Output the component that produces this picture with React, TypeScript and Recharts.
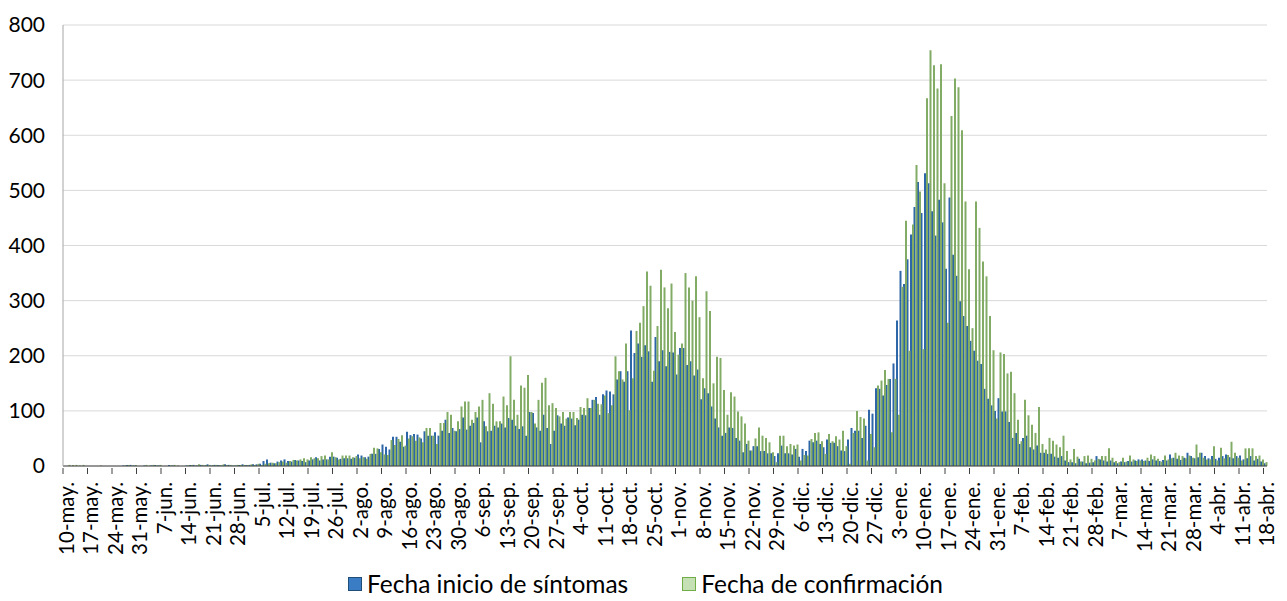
import React from "react";
import { BarChart, Bar, XAxis, YAxis, CartesianGrid, Legend } from "recharts";

// weekly tick labels (every 7th day, 10-may → 18-abr)
const tickLabels = [
  "10-may.", "17-may.", "24-may.", "31-may.", "7-jun.", "14-jun.", "21-jun.", "28-jun.",
  "5-jul.", "12-jul.", "19-jul.", "26-jul.", "2-ago.", "9-ago.", "16-ago.", "23-ago.",
  "30-ago.", "6-sep.", "13-sep.", "20-sep.", "27-sep.", "4-oct.", "11-oct.", "18-oct.",
  "25-oct.", "1-nov.", "8-nov.", "15-nov.", "22-nov.", "29-nov.", "6-dic.", "13-dic.",
  "20-dic.", "27-dic.", "3-ene.", "10-ene.", "17-ene.", "24-ene.", "31-ene.", "7-feb.",
  "14-feb.", "21-feb.", "28-feb.", "7-mar.", "14-mar.", "21-mar.", "28-mar.", "4-abr.",
  "11-abr.", "18-abr.",
];

// daily cases by symptom onset date
const inicioSintomas = [
  0, 0, 0, 0, 0, 0, 0, 0, 0, 0, 0, 0, 0, 0,
  0, 0, 0, 1, 2, 2, 1, 0, 0, 1, 0, 1, 2, 1,
  0, 0, 2, 1, 0, 0, 0, 1, 2, 2, 1, 2, 1, 3,
  1, 2, 2, 1, 3, 2, 1, 1, 2, 3, 2, 2, 3, 3,
  4, 9, 12, 6, 5, 8, 10, 12, 9, 8, 11, 10, 9, 7,
  10, 12, 16, 10, 12, 12, 17, 17, 15, 13, 14, 14, 13, 15,
  21, 19, 16, 17, 22, 22, 31, 39, 35, 30, 53, 53, 44, 35,
  62, 56, 58, 57, 50, 63, 55, 55, 61, 55, 64, 84, 60, 69,
  63, 67, 88, 66, 73, 78, 88, 43, 81, 63, 64, 73, 70, 77,
  70, 87, 84, 73, 67, 72, 55, 98, 96, 70, 64, 93, 69, 40,
  64, 92, 77, 73, 88, 86, 74, 84, 93, 92, 105, 120, 125, 93,
  130, 137, 135, 130, 157, 172, 153, 172, 246, 205, 222, 198, 219, 208,
  153, 234, 190, 210, 181, 207, 206, 166, 214, 214, 183, 190, 164, 175,
  121, 141, 132, 108, 86, 70, 55, 60, 70, 69, 51, 46, 25, 40,
  28, 36, 36, 27, 27, 23, 23, 18, 23, 37, 23, 23, 21, 31,
  17, 31, 27, 46, 43, 46, 40, 34, 48, 42, 42, 36, 28, 27,
  48, 69, 64, 64, 51, 73, 102, 95, 141, 140, 128, 147, 158, 186,
  264, 354, 330, 375, 420, 470, 515, 459, 531, 513, 462, 418, 483, 442,
  358, 487, 383, 345, 299, 272, 254, 227, 209, 191, 185, 140, 122, 110,
  100, 123, 99, 99, 80, 51, 60, 40, 51, 55, 34, 30, 37, 24,
  24, 22, 22, 17, 15, 18, 10, 7, 7, 5, 13, 8, 5, 6,
  7, 18, 12, 10, 8, 10, 7, 5, 8, 7, 9, 8, 10, 12,
  12, 10, 9, 12, 10, 9, 11, 10, 21, 15, 13, 11, 15, 24,
  18, 14, 16, 24, 18, 14, 18, 13, 15, 18, 21, 16, 14, 18,
  19, 12, 14, 18, 10, 13, 8, 5,
];

// daily cases by confirmation date
const confirmacion = [
  0, 2, 2, 2, 1, 2, 0, 0, 0, 0, 1, 0, 0, 0,
  0, 0, 0, 1, 2, 1, 2, 0, 0, 2, 1, 2, 1, 2,
  0, 0, 1, 2, 1, 0, 0, 1, 2, 1, 3, 2, 2, 2,
  2, 2, 2, 3, 2, 2, 1, 2, 2, 2, 2, 3, 2, 4,
  2, 4, 5, 6, 5, 7, 8, 6, 9, 11, 10, 12, 14, 12,
  16, 14, 14, 18, 19, 12, 25, 16, 12, 19, 19, 19, 16, 18,
  14, 16, 13, 22, 33, 32, 25, 21, 20, 47, 38, 49, 56, 37,
  50, 54, 46, 52, 43, 69, 69, 55, 40, 78, 78, 98, 93, 64,
  81, 108, 117, 117, 84, 98, 108, 120, 72, 132, 113, 81, 81, 126,
  110, 199, 120, 93, 146, 142, 165, 98, 77, 120, 151, 160, 110, 114,
  105, 90, 98, 86, 98, 98, 87, 107, 105, 123, 105, 120, 113, 112,
  128, 96, 110, 199, 172, 157, 222, 101, 159, 245, 260, 290, 353, 327,
  173, 254, 356, 324, 286, 331, 243, 202, 222, 350, 324, 300, 344, 270,
  159, 317, 281, 150, 198, 196, 138, 93, 134, 126, 99, 90, 77, 46,
  28, 50, 70, 55, 51, 43, 25, 7, 55, 55, 36, 40, 37, 39,
  10, 20, 19, 49, 60, 61, 45, 22, 58, 45, 54, 48, 64, 36,
  4, 60, 100, 89, 86, 10, 58, 34, 146, 155, 174, 158, 61, 158,
  93, 325, 445, 209, 438, 546, 498, 212, 667, 754, 727, 685, 729, 513,
  260, 635, 703, 687, 609, 480, 357, 250, 480, 432, 371, 344, 272, 210,
  86, 206, 203, 168, 171, 132, 84, 45, 120, 92, 75, 60, 107, 40,
  30, 51, 46, 39, 34, 55, 27, 12, 31, 17, 8, 18, 19, 13,
  10, 13, 18, 18, 32, 15, 9, 7, 15, 8, 19, 12, 9, 10,
  9, 15, 21, 18, 13, 8, 19, 12, 14, 24, 19, 18, 14, 19,
  15, 39, 24, 15, 12, 12, 36, 10, 33, 14, 20, 44, 24, 15,
  10, 32, 32, 32, 18, 19, 12, 7,
];

const yTicks = [0, 100, 200, 300, 400, 500, 600, 700, 800];

const data = inicioSintomas.map((v, i) => ({
  day: i,
  inicio: v,
  confirmacion: confirmacion[i],
}));

const WIDTH = 1287;
const HEIGHT = 601;
const MARGIN = { top: 25, right: 20, left: 0, bottom: 0 };
const Y_WIDTH = 63;
const HALF_BAND = (WIDTH - MARGIN.right - Y_WIDTH) / data.length / 2;

const BLUE = "#2E67A8";
const GREEN = "#82AC66";
const FONT = "Lato, 'Open Sans', sans-serif";

function DateTick(props: any) {
  const { x, y, payload } = props;
  const label = tickLabels[Math.round(payload.value / 7)];
  return (
    <g>
      <line x1={x - HALF_BAND} x2={x - HALF_BAND} y1={y} y2={y + 6} stroke="#404040" strokeWidth={1} />
      <text
        transform={`translate(${x + 1},${y + 14}) rotate(-90)`}
        textAnchor="end"
        dominantBaseline="central"
        fontFamily={FONT}
        fontSize={20.5}
        fill="#000"
      >
        {label}
      </text>
    </g>
  );
}

function LegendContent() {
  const item = (color: string, border: string, text: string) => (
    <div style={{ display: "flex", alignItems: "center" }}>
      <span
        style={{
          display: "inline-block",
          width: 12,
          height: 12,
          background: color,
          border: `1px solid ${border}`,
          marginRight: 5,
        }}
      />
      <span>{text}</span>
    </div>
  );
  return (
    <div
      style={{
        display: "flex",
        justifyContent: "center",
        gap: 54,
        fontFamily: FONT,
        fontSize: 24.5,
        color: "#000",
        paddingTop: 4,
        paddingLeft: 24,
      }}
    >
      {item("#3B7DC4", "#1F4E79", "Fecha inicio de síntomas")}
      {item("#C5E0B4", "#70AD47", "Fecha de confirmación")}
    </div>
  );
}

export default function App() {
  return (
    <div style={{ position: "absolute", left: 0, top: 0, width: WIDTH, height: HEIGHT, background: "#fff" }}>
      <BarChart
        width={WIDTH}
        height={HEIGHT}
        data={data}
        margin={MARGIN}
        barCategoryGap={0}
        barGap={0}
      >
        <CartesianGrid vertical={false} stroke="#D9D9D9" />
        <XAxis
          dataKey="day"
          interval={6}
          height={99}
          tickSize={0}
          tickLine={false}
          axisLine={{ stroke: "#404040" }}
          tick={<DateTick />}
        />
        <YAxis
          width={Y_WIDTH}
          domain={[0, 800]}
          ticks={yTicks}
          tickLine={false}
          tickSize={0}
          tickMargin={18}
          axisLine={{ stroke: "#A6A6A6" }}
          tick={{ fontFamily: FONT, fontSize: 21, fill: "#000" }}
        />
        <Legend verticalAlign="bottom" height={36} content={<LegendContent />} />
        <Bar dataKey="inicio" name="Fecha inicio de síntomas" fill={BLUE} isAnimationActive={false} />
        <Bar dataKey="confirmacion" name="Fecha de confirmación" fill={GREEN} isAnimationActive={false} />
      </BarChart>
    </div>
  );
}
